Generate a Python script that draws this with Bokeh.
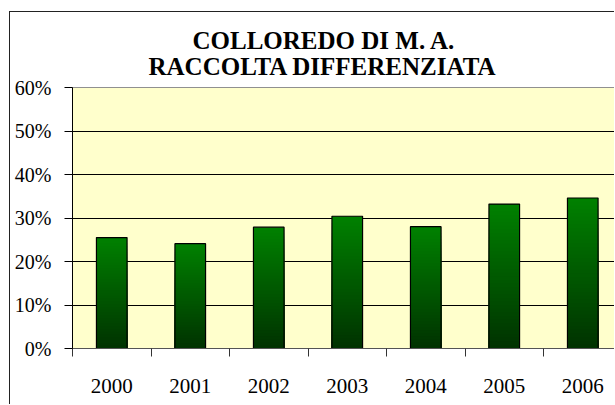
import numpy as np
from bokeh.plotting import figure
from bokeh.models import (Range1d, FixedTicker, NumeralTickFormatter,
                          ColumnDataSource, Title)
from bokeh.embed import file_html
from bokeh.resources import INLINE

# ---- data ----
years = ["2000", "2001", "2002", "2003", "2004", "2005", "2006"]
values = [0.255, 0.241, 0.279, 0.304, 0.280, 0.332, 0.346]
y_ticks = [0.0, 0.1, 0.2, 0.3, 0.4, 0.5, 0.6]
title_lines = ["COLLOREDO DI M. A.", "RACCOLTA DIFFERENZIATA"]

FONT = "Liberation Serif, DejaVu Serif, serif"

positions = list(range(len(years)))

# gradient built as nested bars (brightest/full height first, darker shorter on top)
N = 40
gx, gtop, gcol = [], [], []
for k in range(N - 1, -1, -1):
    f = k / (N - 1)
    g = int(round(51 + (128 - 51) * f))
    for i, v in enumerate(values):
        gx.append(positions[i])
        gtop.append(v * (k + 1) / N)
        gcol.append("#00%02x00" % g)
grad_src = ColumnDataSource(dict(x=gx, top=gtop, color=gcol))
bar_src = ColumnDataSource(dict(x=positions, top=values))

p = figure(width=605, height=393,
           x_range=Range1d(-0.5, 6.417), y_range=Range1d(0, 0.6),
           output_backend="svg", toolbar_location=None, title=None,
           min_border_left=62, min_border_right=0,
           min_border_top=75, min_border_bottom=57)
p.styles = {"margin-left": "9px", "margin-top": "11px",
            "border-left": "1px solid #222", "border-top": "1px solid #222"}

p.background_fill_color = "#FFFFCC"
p.border_fill_color = "white"
p.outline_line_color = "#909090"
p.outline_line_width = 1

p.vbar(x="x", top="top", bottom=0, width=0.39, source=grad_src,
       fill_color="color", line_color=None)
p.vbar(x="x", top="top", bottom=0, width=0.39, source=bar_src,
       fill_color=None, line_color="black", line_width=1.2)

# y axis
p.yaxis.ticker = FixedTicker(ticks=y_ticks)
p.yaxis.formatter = NumeralTickFormatter(format="0%")
p.yaxis.major_tick_out = 8
p.yaxis.major_tick_in = 0
p.yaxis.minor_tick_out = 0
p.yaxis.minor_tick_in = 0
p.yaxis.axis_line_color = "black"
p.yaxis.major_tick_line_color = "black"
p.yaxis.major_label_standoff = 13
p.yaxis.major_label_text_font = FONT
p.yaxis.major_label_text_font_size = "20px"
p.yaxis.major_label_text_color = "black"

# x axis: labels at category centres, tick marks at category boundaries
p.xaxis.ticker = FixedTicker(ticks=positions,
                             minor_ticks=[x - 0.5 for x in positions] + [positions[-1] + 0.5])
p.xaxis.major_label_overrides = {x: y for x, y in zip(positions, years)}
p.xaxis.major_tick_out = 0
p.xaxis.major_tick_in = 0
p.xaxis.minor_tick_out = 8
p.xaxis.minor_tick_in = 0
p.xaxis.minor_tick_line_color = "#333333"
p.xaxis.axis_line_color = "#555555"
p.xaxis.major_label_standoff = 22
p.xaxis.major_label_text_font = FONT
p.xaxis.major_label_text_font_size = "21px"
p.xaxis.major_label_text_color = "black"

p.xgrid.visible = False
p.ygrid.ticker = FixedTicker(ticks=y_ticks[1:-1])
p.ygrid.grid_line_color = "black"
p.ygrid.grid_line_width = 1

# title lines (second line is closest to the frame)
t2 = Title(text=title_lines[1], align="left", offset=76, standoff=15,
           vertical_align="bottom", text_font=FONT, text_font_size="25px",
           text_font_style="bold", text_color="black")
t1 = Title(text=title_lines[0], align="left", offset=120, standoff=-20,
           vertical_align="bottom", text_font=FONT, text_font_size="25px",
           text_font_style="bold", text_color="black")
p.add_layout(t2, "above")
p.add_layout(t1, "above")

open("out.html", "w").write(file_html(p, INLINE))
